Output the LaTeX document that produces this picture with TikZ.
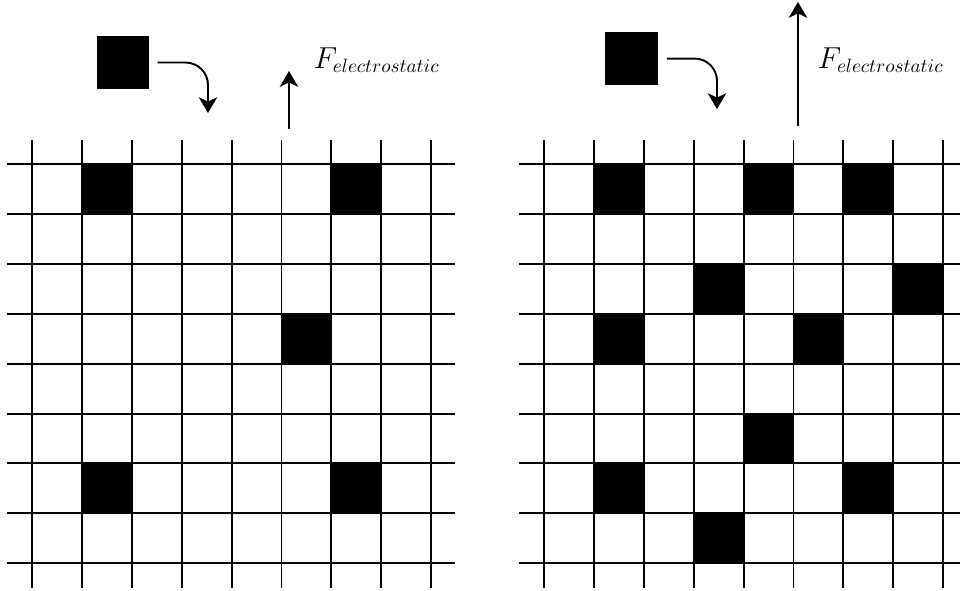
\documentclass[tikz,border=0pt]{standalone}
\usetikzlibrary{arrows.meta}
\begin{document}
\begin{tikzpicture}[x=1cm,y=1cm,
 gridline/.style={line width=1.1pt,black},
 cell/.style={fill=black},
 ptcl/.style={draw=black,fill=black,minimum size=1.03cm,inner sep=0pt,outer sep=0pt},
 arr/.style={line width=1.1pt,-{Stealth[length=9pt,width=10.5pt,inset=2.5pt]}},
 flabel/.style={inner sep=0pt,anchor=base west,font=\fontsize{16}{19}\selectfont}]
\useasboundingbox (-0.641,-8.537) rectangle (18.597,3.287);
% left grid
\foreach \c/\r in {1/0,6/0,5/3,1/6,6/6} { \fill[cell] (\c,-\r) rectangle ++(1,-1); }
\foreach \i in {0,...,8} {
  \draw[gridline] (\i,0.48) -- (\i,-8.5);
  \draw[gridline] (-0.5,-\i) -- (8.48,-\i);
}
% right grid
\begin{scope}[xshift=10.26cm]
\foreach \c/\r in {1/0,4/0,6/0,3/2,7/2,1/3,5/3,4/5,1/6,6/6,3/7} { \fill[cell] (\c,-\r) rectangle ++(1,-1); }
\foreach \i in {0,...,8} {
  \draw[gridline] (\i,0.48) -- (\i,-8.5);
  \draw[gridline] (-0.5,-\i) -- (8.48,-\i);
}
\end{scope}
% left top
\node[ptcl] (pL) at (1.824,2.034) {};
\coordinate (cL) at (3.527,1.022);
\draw[arr,rounded corners=0.45cm] ([xshift=0.18cm]pL.east) -| (cL);
\coordinate (uL0) at (5.15,0.70);
\coordinate (uL1) at (5.15,1.864);
\draw[arr] (uL0) -- (uL1);
\node[flabel] (fL) at (5.64,1.92) {$F_{electrostatic}$};
% right top
\node[ptcl] (pR) at (12.01,2.114) {};
\coordinate (cR) at (13.727,1.102);
\draw[arr,rounded corners=0.45cm] ([xshift=0.2cm]pR.east) -| (cR);
\coordinate (uR0) at (15.35,0.76);
\coordinate (uR1) at (15.35,3.247);
\draw[arr] (uR0) -- (uR1);
\node[flabel] (fR) at (15.74,1.92) {$F_{electrostatic}$};
\end{tikzpicture}
\end{document}
